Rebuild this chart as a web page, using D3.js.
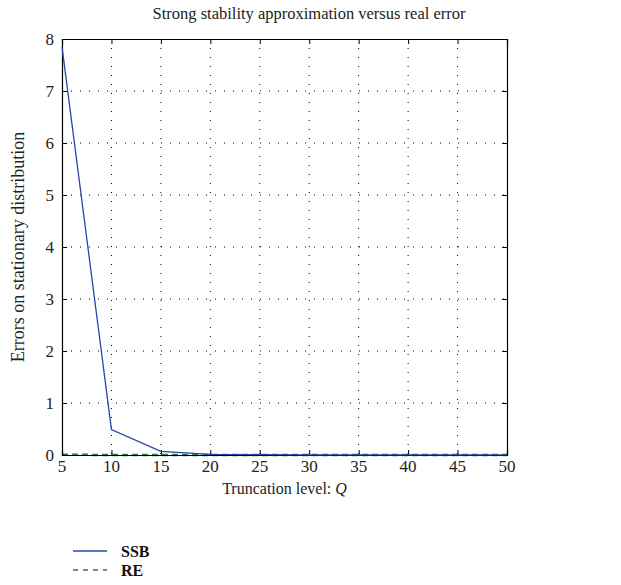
<!DOCTYPE html>
<html><head><meta charset="utf-8">
<script src="https://cdn.jsdelivr.net/npm/d3@7"></script>
<style>body{margin:0;background:#fff;} svg text{font-family:"Liberation Serif","DejaVu Serif",serif;}</style>
</head><body>
<svg id="c" width="621" height="585"></svg>
<script>
const qLevels = [5,10,15,20,25,30,35,40,45,50];
const ssbValues = [7.85,0.49,0.07,0.012,0.006,0.004,0.003,0.003,0.002,0.002];
const reValues = [0.004,0.001,0.0005,0.0003,0.0002,0.0001,0.0001,0.0001,0.0001,0.0001];
const xTicks = [5,10,15,20,25,30,35,40,45,50];
const yTicks = [0,1,2,3,4,5,6,7,8];

const svg = d3.select("#c");
const L=62, R=507, T=39, B=455;
const x = d3.scaleLinear().domain([5,50]).range([L,R]);
const y = d3.scaleLinear().domain([0,8]).range([B,T]);

function label(px, py, txt, size, anchor, opts={}) {
  const t = svg.append("text")
    .attr("transform", `translate(${px},${py})${opts.rot?` rotate(${opts.rot})`:""}`)
    .attr("text-anchor", anchor).style("font-size", size+"px").attr("fill", opts.fill||"#222");
  if (opts.bold) t.attr("font-weight","bold");
  if (typeof txt === "string") t.text(txt); else txt(t);
  return t;
}

// grid
const g = svg.append("g");
g.selectAll(".vg").data(xTicks.slice(1,-1)).enter().append("line")
 .attr("x1",d=>x(d)).attr("x2",d=>x(d)).attr("y1",T).attr("y2",B)
 .attr("stroke","#000").attr("stroke-width",1).attr("stroke-dasharray","1,8");
g.selectAll(".hg").data(yTicks.slice(1,-1)).enter().append("line")
 .attr("y1",d=>y(d)).attr("y2",d=>y(d)).attr("x1",L).attr("x2",R)
 .attr("stroke","#000").attr("stroke-width",1).attr("stroke-dasharray","1,8");

// lines
const line = d3.line().x((d,i)=>x(qLevels[i])).y(d=>y(d));
svg.append("path").datum(reValues).attr("d",line).attr("fill","none")
 .attr("stroke","#2e7d4f").attr("stroke-width",2.5).attr("stroke-dasharray","6,4");

// axes (inward ticks, labels drawn separately)
const tk=5;
svg.append("g").attr("transform",`translate(0,${B})`)
 .call(d3.axisBottom(x).tickValues(xTicks).tickSize(-tk).tickFormat(""));
svg.append("g").attr("transform",`translate(0,${T})`)
 .call(d3.axisTop(x).tickValues(xTicks).tickSize(-tk).tickFormat(""));
svg.append("g").attr("transform",`translate(${L},0)`)
 .call(d3.axisLeft(y).tickValues(yTicks).tickSize(-tk).tickFormat(""));
svg.append("g").attr("transform",`translate(${R},0)`)
 .call(d3.axisRight(y).tickValues(yTicks).tickSize(-tk).tickFormat(""));
svg.selectAll(".domain").attr("stroke","#000").attr("stroke-width",1.2);
svg.selectAll(".tick line").attr("stroke","#000");

svg.append("path").datum(ssbValues).attr("d",line).attr("fill","none")
 .attr("stroke","#2a44a8").attr("stroke-width",1.3);

// tick labels
xTicks.forEach(v => label(x(v), B+17, String(v), 17, "middle"));
yTicks.forEach(v => label(L-8, y(v)+6, String(v), 17, "end"));

// titles
label(309, 19, "Strong stability approximation versus real error", 16.5, "middle");
label((L+R)/2, 494, t => {
  t.append("tspan").text("Truncation level: ");
  t.append("tspan").attr("font-style","italic").text("Q");
}, 16, "middle");
label(24, (T+B)/2, "Errors on stationary distribution", 18, "middle", {rot:-90});

// legend
const legend = [{name:"SSB",color:"#2a44a8",dash:null,w:1.3},{name:"RE",color:"#2e7d4f",dash:"5,5",w:1.5}];
legend.forEach((d,i)=>{
  const yy = 551 + i*19;
  svg.append("line").attr("x1",73).attr("x2",107).attr("y1",yy).attr("y2",yy)
    .attr("stroke",d.color).attr("stroke-width",d.w).attr("stroke-dasharray",d.dash);
  label(121, yy+6, d.name, 16, "start", {bold:true, fill:"#111"});
});
</script>
</body></html>
